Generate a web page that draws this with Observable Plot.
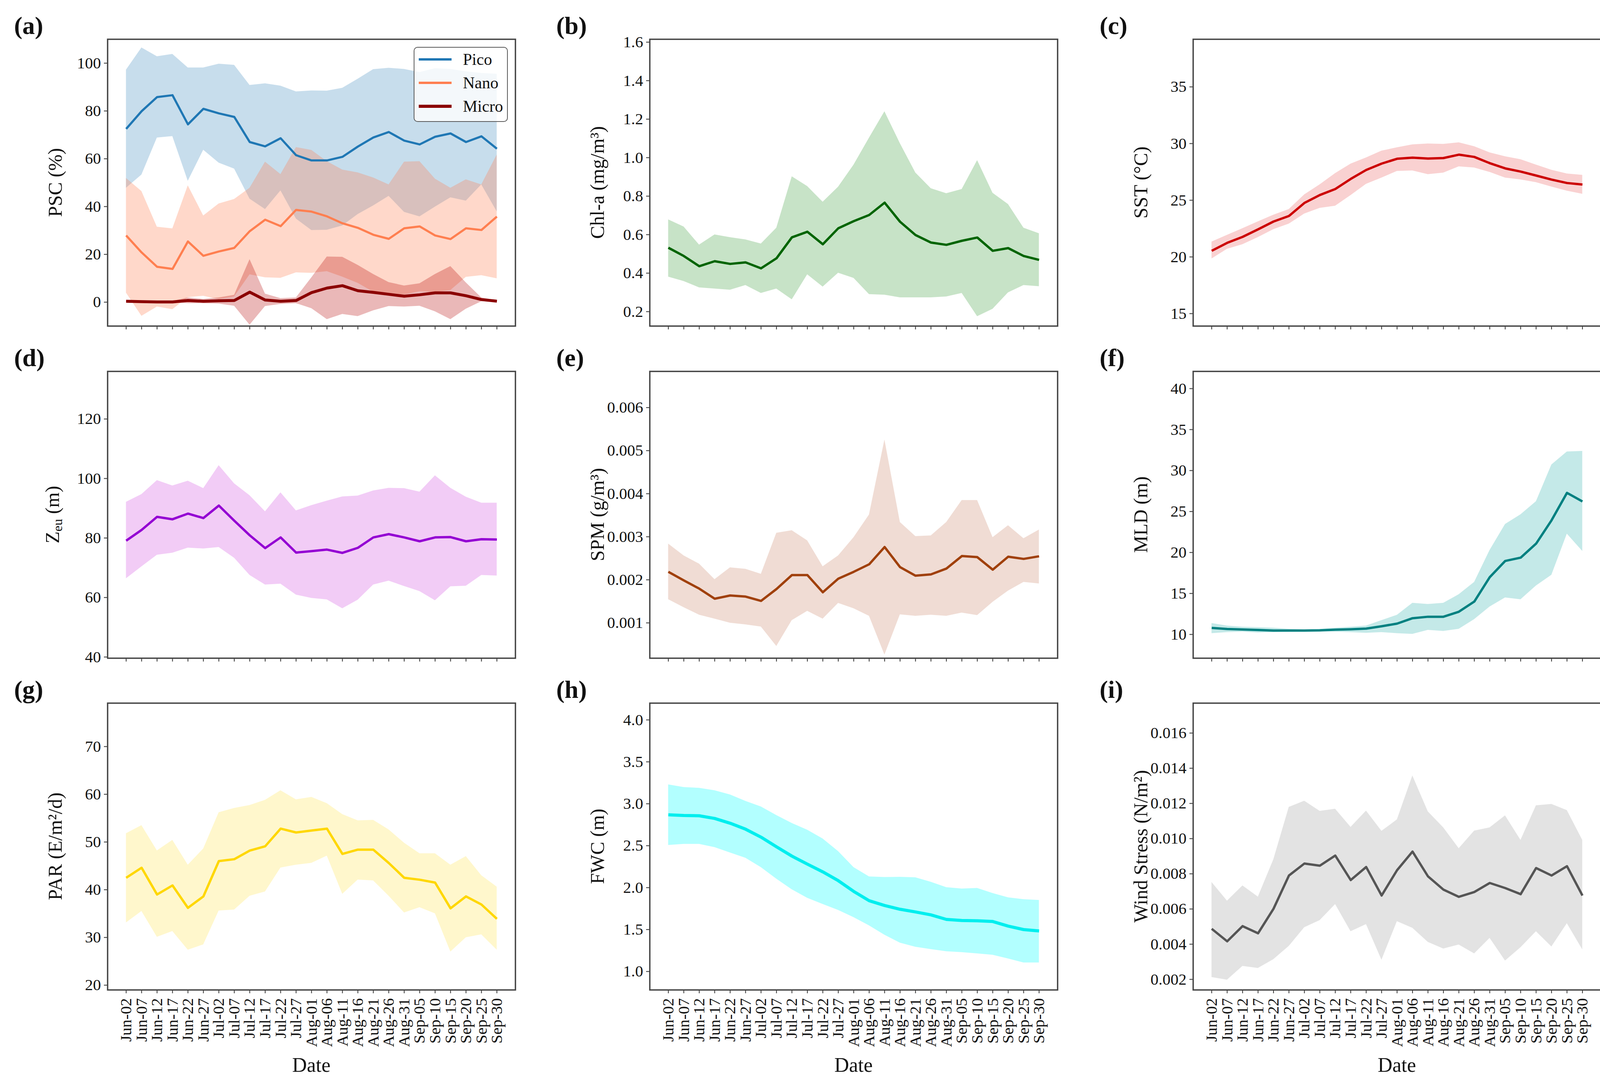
<!DOCTYPE html>
<html><head><meta charset="utf-8">
<script src="https://cdn.jsdelivr.net/npm/d3@7"></script>
<script src="https://cdn.jsdelivr.net/npm/@observablehq/plot@0.6"></script>
<style>
html,body{margin:0;padding:0;background:#fff;}
body{width:4140px;height:2787px;position:relative;overflow:hidden;font-family:"Liberation Serif","Times New Roman",serif;color:#111;}
.panel{position:absolute;}
.plabel{position:absolute;font-weight:bold;font-size:64px;line-height:64px;white-space:nowrap;}
.ylabel{position:absolute;font-size:50px;line-height:50px;white-space:nowrap;transform:translate(-50%,-50%) rotate(-90deg);}
.ylabel sub{font-size:34px;vertical-align:-8px;}
.xlabel{position:absolute;font-size:52px;line-height:52px;transform:translate(-50%,-50%);}
.legend{position:absolute;border:2.5px solid #5a5a5a;border-radius:10px;background:rgba(255,255,255,0.8);box-sizing:border-box;}
.legend .row{position:absolute;left:0;height:60px;display:flex;align-items:center;}
.legend .sw{width:84px;margin-left:11px;}
.legend .tx{font-size:42px;margin-left:29px;}
</style></head>
<body>
<script>
// ---- data ----
const dates = ["Jun-02","Jun-07","Jun-12","Jun-17","Jun-22","Jun-27","Jul-02","Jul-07","Jul-12","Jul-17","Jul-22","Jul-27","Aug-01","Aug-06","Aug-11","Aug-16","Aug-21","Aug-26","Aug-31","Sep-05","Sep-10","Sep-15","Sep-20","Sep-25","Sep-30"];

const picoMean = [72.5,79.9,85.8,86.6,74.4,80.9,79.0,77.5,67.0,65.2,68.6,61.5,59.3,59.3,60.8,65.1,68.9,71.2,67.6,66.0,69.2,70.6,67.0,69.4,64.2];
const picoHi   = [97.2,106.5,102.8,103.8,98.1,98.1,99.7,99.2,90.8,91.5,90.5,88.1,88.5,88.4,89.6,93.4,97.4,98.0,97.5,96.2,97.8,97.5,96.5,95.8,95.5];
const picoLo   = [47.8,53.3,68.8,69.4,50.7,63.7,58.3,55.8,43.2,38.9,46.7,34.9,30.1,30.2,32.0,36.8,40.4,44.4,37.7,35.8,39.9,43.8,42.4,49.2,37.9];
const nanoMean = [27.9,20.8,14.8,13.9,25.4,19.4,21.2,22.7,29.7,34.5,31.8,38.6,37.9,35.9,33.0,31.1,28.2,26.5,30.9,31.7,27.9,26.4,30.9,30.2,35.8];
const nanoHi   = [51.9,46.4,31.5,30.8,48.8,36.2,41.2,43.1,47.8,58.7,53.5,64.8,63.6,58.9,55.4,54.2,52.1,49.2,58.7,58.9,51.6,47.8,51.3,49.2,61.7];
const nanoLo   = [3.9,-5.8,-1.9,-3.0,2.0,2.6,1.2,2.3,11.6,10.3,10.1,12.4,12.2,12.9,10.6,8.0,4.3,3.8,3.1,4.5,4.2,5.0,10.5,11.2,9.9];
const microMean= [0.4,0.2,0.1,0.1,0.7,0.4,0.6,0.7,4.2,0.9,0.4,0.7,4.0,5.9,6.9,4.8,4.1,3.3,2.5,3.1,3.9,3.9,2.7,1.1,0.4];
const microHi  = [0.9,0.6,0.4,0.4,1.9,1.3,1.9,3.0,17.9,3.5,1.6,1.9,10.3,19.0,18.9,15.5,11.7,8.3,6.9,7.8,11.7,15.0,8.2,1.9,0.7];
const microLo  = [-0.1,-0.2,-0.2,-0.2,-0.5,-0.5,-0.7,-1.6,-9.5,-1.7,-0.8,-0.5,-2.6,-7.2,-5.0,-5.9,-3.5,-1.7,-1.9,-1.6,-3.9,-7.2,-2.8,0.3,0.1];

const chlMean = [0.532,0.489,0.436,0.462,0.448,0.456,0.425,0.477,0.586,0.615,0.550,0.633,0.670,0.702,0.766,0.667,0.598,0.559,0.547,0.568,0.585,0.516,0.530,0.489,0.469];
const chlHi   = [0.678,0.641,0.547,0.600,0.586,0.574,0.553,0.635,0.902,0.851,0.770,0.848,0.963,1.103,1.240,1.074,0.922,0.840,0.814,0.836,0.986,0.816,0.758,0.635,0.606];
const chlLo   = [0.381,0.358,0.325,0.319,0.313,0.337,0.296,0.319,0.263,0.393,0.329,0.401,0.374,0.290,0.287,0.273,0.273,0.273,0.278,0.296,0.175,0.214,0.299,0.337,0.331];

const sstMean = [20.54,21.24,21.77,22.43,23.12,23.61,24.76,25.46,25.99,26.88,27.67,28.23,28.66,28.76,28.68,28.72,29.02,28.82,28.27,27.81,27.53,27.18,26.82,26.52,26.39];
const sstHi   = [21.34,21.93,22.52,23.12,23.71,24.21,25.50,26.39,27.38,28.21,28.76,29.36,29.65,29.91,29.99,29.95,30.09,29.75,29.20,28.86,28.60,28.13,27.67,27.34,27.22];
const sstLo   = [19.85,20.70,21.10,21.73,22.43,22.92,23.81,24.31,24.50,25.44,26.43,26.98,27.57,27.61,27.28,27.42,27.97,27.87,27.48,26.98,26.82,26.58,26.19,25.83,25.55];

const zeuMean = [79.1,82.7,87.1,86.3,88.2,86.7,90.9,85.8,80.9,76.6,80.2,75.1,75.6,76.1,75.0,76.7,80.2,81.3,80.2,78.9,80.2,80.3,78.9,79.6,79.5];
const zeuHi   = [92.1,94.7,99.4,97.6,99.2,96.7,104.4,98.3,94.3,88.9,95.3,89.2,91.0,92.5,93.9,94.2,95.9,96.8,96.7,95.5,101.0,96.8,93.8,91.8,91.8];
const zeuLo   = [66.4,70.4,74.3,75.0,76.7,76.4,76.9,73.3,67.5,64.3,64.6,60.9,59.8,59.3,56.3,59.2,64.3,65.6,63.8,62.1,59.0,63.7,63.9,67.5,67.3];

const spmMean = [0.002186,0.001986,0.001796,0.001561,0.001636,0.001611,0.001511,0.001786,0.002111,0.002111,0.001711,0.002026,0.002186,0.002361,0.002762,0.002296,0.002096,0.002126,0.002261,0.002552,0.002527,0.002236,0.002537,0.002486,0.002547];
const spmHi   = [0.002837,0.002562,0.002371,0.002011,0.002286,0.002251,0.002136,0.003087,0.003147,0.002912,0.002311,0.002562,0.002987,0.003513,0.005254,0.003337,0.003012,0.003027,0.003337,0.003848,0.003848,0.002987,0.003262,0.002962,0.003162];
const spmLo   = [0.001546,0.001360,0.001185,0.001095,0.001000,0.000960,0.000910,0.000459,0.001060,0.001275,0.001095,0.001460,0.001335,0.001160,0.000259,0.001195,0.001160,0.001185,0.001160,0.001235,0.001175,0.001485,0.001746,0.001946,0.001911];

const mldMean = [10.79,10.66,10.61,10.55,10.47,10.47,10.47,10.50,10.58,10.63,10.71,11.00,11.32,11.98,12.16,12.16,12.77,14.01,16.99,18.97,19.37,21.08,23.93,27.28,26.23];
const mldHi   = [11.37,11.06,10.92,10.87,10.79,10.66,10.58,10.66,10.79,10.92,11.06,11.72,12.37,13.83,13.69,13.83,14.88,16.39,20.29,23.46,24.64,26.23,30.71,32.30,32.37];
const mldLo   = [10.13,10.26,10.32,10.21,10.26,10.32,10.37,10.37,10.32,10.26,10.18,10.26,10.13,10.05,10.53,10.40,10.66,11.85,13.38,14.49,14.27,15.94,17.26,22.27,20.16];

const parMean = [42.5,44.6,39.0,40.9,36.2,38.6,46.0,46.4,48.2,49.1,52.8,52.0,52.4,52.8,47.5,48.4,48.4,45.6,42.5,42.1,41.5,36.1,38.6,36.9,33.9];
const parHi   = [51.8,53.5,48.2,50.4,45.2,48.6,56.2,57.1,57.7,58.8,60.8,58.9,59.4,58.1,55.8,54.5,54.6,52.6,49.8,47.6,47.6,45.2,47.0,43.0,40.6];
const parLo   = [33.1,35.5,30.1,31.3,27.4,28.5,35.6,35.8,38.7,39.6,44.6,45.2,45.6,47.1,39.1,42.1,41.9,38.7,35.2,36.3,35.0,27.0,30.0,30.6,27.4];

const fwcMean = [2.869,2.860,2.857,2.825,2.768,2.697,2.602,2.487,2.376,2.280,2.188,2.083,1.955,1.844,1.787,1.742,1.710,1.675,1.621,1.608,1.605,1.596,1.541,1.500,1.484];
const fwcHi   = [3.229,3.197,3.188,3.159,3.108,3.032,2.965,2.863,2.768,2.688,2.583,2.433,2.242,2.131,2.124,2.127,2.121,2.067,2.003,1.987,1.994,1.933,1.882,1.860,1.850];
const fwcLo   = [2.506,2.519,2.519,2.481,2.417,2.354,2.242,2.105,1.978,1.876,1.803,1.732,1.646,1.548,1.436,1.341,1.293,1.264,1.239,1.229,1.213,1.197,1.153,1.105,1.105];

const windMean = [0.004876,0.004164,0.005027,0.004618,0.006011,0.007903,0.008584,0.008463,0.009038,0.007646,0.008387,0.006768,0.008206,0.009265,0.007857,0.007101,0.006692,0.006964,0.007479,0.007191,0.006843,0.008327,0.007903,0.008433,0.006768];
const windHi   = [0.007524,0.006465,0.007328,0.006692,0.008811,0.011793,0.012141,0.011566,0.011687,0.010657,0.011581,0.010430,0.011081,0.013579,0.011535,0.010627,0.009447,0.010445,0.010627,0.011308,0.009916,0.011884,0.011959,0.011611,0.009916];
const windLo   = [0.002121,0.001970,0.002757,0.002636,0.003135,0.003892,0.004951,0.005360,0.006268,0.004724,0.005133,0.003105,0.005300,0.004921,0.004119,0.003741,0.003968,0.003468,0.004346,0.003059,0.003816,0.004724,0.003862,0.005178,0.003695];

const psTicks   = [0,20,40,60,80,100];
const chlTicks  = [0.2,0.4,0.6,0.8,1.0,1.2,1.4,1.6];
const sstTicks  = [15,20,25,30,35];
const zeuTicks  = [40,60,80,100,120];
const spmTicks  = [0.001,0.002,0.003,0.004,0.005,0.006];
const mldTicks  = [10,15,20,25,30,35,40];
const parTicks  = [20,30,40,50,60,70];
const fwcTicks  = [1.0,1.5,2.0,2.5,3.0,3.5,4.0];
const windTicks = [0.002,0.004,0.006,0.008,0.010,0.012,0.014,0.016];

// ---- layout ----
const colX = [275, 1663, 3054];
const rowY = [100, 950, 1799];
const FW = 1044, FH = 734;
const ML = 200, MR = 20, MT = 20, MB = 170;
const FONT = '"Liberation Serif","Times New Roman",serif';

function rows(mean, lo, hi) {
  return dates.map((d, i) => ({i, date: d, mean: mean[i], lo: lo[i], hi: hi[i]}));
}

function makePanel(cfg) {
  const {col, row, series, yDomain, yTicks, yFmt, showX} = cfg;
  const marks = [];
  for (const s of series) {
    marks.push(Plot.areaY(rows(s.mean, s.lo, s.hi), {x: "i", y1: "lo", y2: "hi", fill: s.fill, fillOpacity: s.alpha, curve: "linear"}));
  }
  for (const s of series) {
    marks.push(Plot.lineY(rows(s.mean, s.lo, s.hi), {x: "i", y: "mean", stroke: s.stroke, strokeWidth: s.width || 6, strokeLinejoin: "round", strokeLinecap: "butt"}));
  }
  marks.push(Plot.frame({stroke: "#444", strokeWidth: 3.5}));
  marks.push(Plot.axisX({
    ticks: d3.range(dates.length),
    tickFormat: showX ? (i) => dates[i] : () => "",
    tickRotate: showX ? -90 : 0,
    tickSize: 9, tickPadding: 12, fontSize: 41, stroke: "#444", strokeWidth: 2.2, label: null
  }));
  marks.push(Plot.axisY({
    ticks: yTicks, tickFormat: yFmt, tickSize: 9, tickPadding: 8, fontSize: 41, stroke: "#444", strokeWidth: 2.2, label: null
  }));
  const svg = Plot.plot({
    width: ML + FW + MR, height: MT + FH + MB,
    marginLeft: ML, marginRight: MR, marginTop: MT, marginBottom: MB,
    x: {type: "linear", domain: [-1.2, dates.length - 1 + 1.2]},
    y: {type: "linear", domain: yDomain},
    style: {fontFamily: FONT, fontSize: "41px", color: "#111", background: "transparent", overflow: "visible"},
    marks
  });
  svg.classList.add("panel");
  svg.style.left = (colX[col] - ML) + "px";
  svg.style.top = (rowY[row] - MT) + "px";
  document.body.appendChild(svg);

  const pl = document.createElement("div");
  pl.className = "plabel";
  pl.textContent = cfg.tag;
  pl.style.left = (colX[col] - 239) + "px";
  pl.style.top = (rowY[row] - 66) + "px";
  document.body.appendChild(pl);

  const yl = document.createElement("div");
  yl.className = "ylabel";
  yl.innerHTML = cfg.ylabel;
  yl.style.left = (colX[col] - 134) + "px";
  yl.style.top = (rowY[row] + FH / 2) + "px";
  document.body.appendChild(yl);

  if (showX) {
    const xl = document.createElement("div");
    xl.className = "xlabel";
    xl.textContent = "Date";
    xl.style.left = (colX[col] + FW / 2) + "px";
    xl.style.top = "2726px";
    document.body.appendChild(xl);
  }
}

const f0 = d3.format(".0f"), f1 = d3.format(".1f"), f3 = d3.format(".3f");

makePanel({tag: "(a)", col: 0, row: 0, ylabel: "PSC (%)", yDomain: [-10, 110], yTicks: psTicks, yFmt: f0,
  series: [
    {mean: picoMean, lo: picoLo, hi: picoHi, stroke: "#1f77b4", fill: "#1f77b4", alpha: 0.25, width: 5.5},
    {mean: nanoMean, lo: nanoLo, hi: nanoHi, stroke: "#ff7f50", fill: "#ff7f50", alpha: 0.3, width: 5.5},
    {mean: microMean, lo: microLo, hi: microHi, stroke: "#8b0000", fill: "#b40000", alpha: 0.28, width: 7.5}
  ]});
makePanel({tag: "(b)", col: 1, row: 0, ylabel: "Chl-a (mg/m³)", yDomain: [0.125, 1.615], yTicks: chlTicks, yFmt: f1,
  series: [{mean: chlMean, lo: chlLo, hi: chlHi, stroke: "#006400", fill: "#008000", alpha: 0.22}]});
makePanel({tag: "(c)", col: 2, row: 0, ylabel: "SST (°C)", yDomain: [13.9, 39.2], yTicks: sstTicks, yFmt: f0,
  series: [{mean: sstMean, lo: sstLo, hi: sstHi, stroke: "#cc0000", fill: "#e00000", alpha: 0.18}]});
makePanel({tag: "(d)", col: 0, row: 1, ylabel: "Z<sub>eu</sub> (m)", yDomain: [39.6, 136], yTicks: zeuTicks, yFmt: f0,
  series: [{mean: zeuMean, lo: zeuLo, hi: zeuHi, stroke: "#9400d3", fill: "#c000d0", alpha: 0.2}]});
makePanel({tag: "(e)", col: 1, row: 1, ylabel: "SPM (g/m³)", yDomain: [0.00018, 0.00684], yTicks: spmTicks, yFmt: f3,
  series: [{mean: spmMean, lo: spmLo, hi: spmHi, stroke: "#a0400c", fill: "#b45028", alpha: 0.2}]});
makePanel({tag: "(f)", col: 2, row: 1, ylabel: "MLD (m)", yDomain: [7.1, 42.1], yTicks: mldTicks, yFmt: f0,
  series: [{mean: mldMean, lo: mldLo, hi: mldHi, stroke: "#008080", fill: "#00a09a", alpha: 0.23}]});
makePanel({tag: "(g)", col: 0, row: 2, ylabel: "PAR (E/m²/d)", yDomain: [19, 79.1], yTicks: parTicks, yFmt: f0, showX: true,
  series: [{mean: parMean, lo: parLo, hi: parHi, stroke: "#ffd700", fill: "#ffd700", alpha: 0.2}]});
makePanel({tag: "(h)", col: 1, row: 2, ylabel: "FWC (m)", yDomain: [0.78, 4.2], yTicks: fwcTicks, yFmt: f1, showX: true,
  series: [{mean: fwcMean, lo: fwcLo, hi: fwcHi, stroke: "#00eeee", fill: "#00ffff", alpha: 0.3, width: 8}]});
makePanel({tag: "(i)", col: 2, row: 2, ylabel: "Wind Stress (N/m²)", yDomain: [0.0014, 0.0177], yTicks: windTicks, yFmt: f3, showX: true,
  series: [{mean: windMean, lo: windLo, hi: windHi, stroke: "#555555", fill: "#999999", alpha: 0.28}]});

// legend for panel (a)
const legendItems = [["Pico", "#1f77b4", 6], ["Nano", "#ff7f50", 6], ["Micro", "#8b0000", 7.5]];
const lg = document.createElement("div");
lg.className = "legend";
lg.style.left = "1059px"; lg.style.top = "120px"; lg.style.width = "241px"; lg.style.height = "192px";
legendItems.forEach(([name, color, w], k) => {
  const r = document.createElement("div");
  r.className = "row";
  r.style.top = (0 + k * 60) + "px";
  r.innerHTML = `<div class="sw" style="background:${color};height:${w}px"></div><div class="tx">${name}</div>`;
  lg.appendChild(r);
});
document.body.appendChild(lg);
</script>
</body></html>
